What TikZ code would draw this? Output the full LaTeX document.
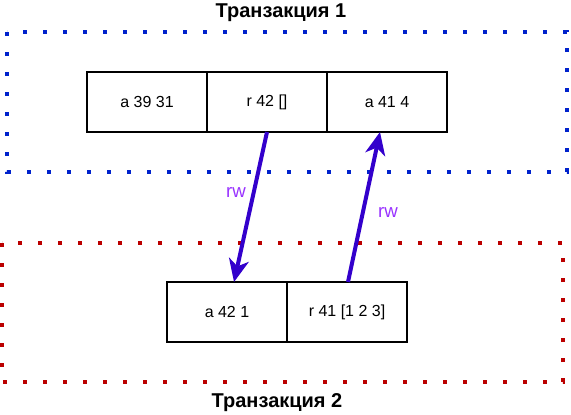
\documentclass[tikz,border=0pt]{standalone}
\usepackage{fontspec}
\setmainfont{Liberation Sans}
\usetikzlibrary{arrows.meta}
\definecolor{tblue}{HTML}{0022CC}
\definecolor{tred}{HTML}{BB0000}
\definecolor{arrowc}{HTML}{3300CC}
\definecolor{rwc}{HTML}{9933FF}
\tikzset{
  cell/.style={draw=black, line width=0.9pt, minimum width=90pt, minimum height=45pt, inner sep=0pt, font=\fontsize{12pt}{14pt}\selectfont},
  dotbox/.style={line width=3.2pt, dash pattern=on 3.2pt off 11.8pt, line cap=butt},
  flow/.style={draw=arrowc, line width=3pt, -{Stealth[length=17pt,width=15pt,inset=5pt]}},
  rwlab/.style={text=rwc, font=\fontsize{14pt}{16pt}\selectfont},
  title/.style={font=\bfseries\fontsize{15pt}{17pt}\selectfont}
}
\begin{document}
\begin{tikzpicture}[x=0.75pt,y=-0.75pt]
\useasboundingbox (0,0) rectangle (571,414);
\draw[dotbox, tblue] (7,32) rectangle (567,172);
\draw[dotbox, tred] (2,243) rectangle (563,382);
\node[title] (t1) at (281,13) {Транзакция 1};
\node[title] (t2) at (277,403) {Транзакция 2};
\node[cell] (c1) at (147,102) {a 39 31};
\node[cell] (c2) at (267,102) {r 42 []};
\node[cell] (c3) at (387,102) {a 41 4};
\node[cell] (d1) at (227,312) {a 42 1};
\node[cell] (d2) at (347,312) {r 41 [1 2 3]};
\coordinate (s1) at (267,132);
\coordinate (e1) at (234,282);
\coordinate (s2) at (348,282);
\coordinate (e2) at (380,132);
\draw[flow] (s1) -- (e1);
\draw[flow] (s2) -- (e2);
\node[rwlab] (l1) at (236,192) {rw};
\node[rwlab] (l2) at (388,212) {rw};
\end{tikzpicture}
\end{document}
